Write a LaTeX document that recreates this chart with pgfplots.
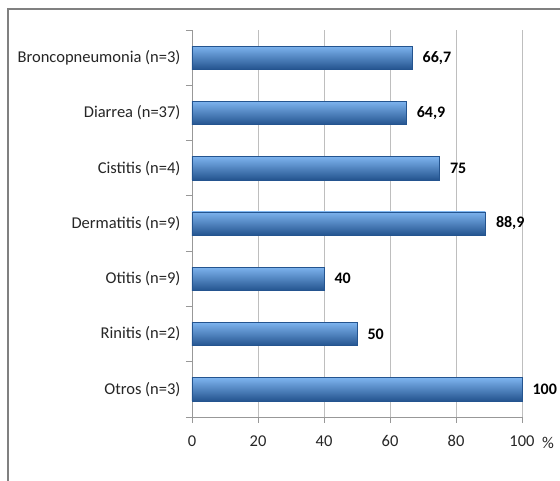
\documentclass[border=0pt]{standalone}
\usepackage{fontspec}
\setmainfont{Carlito}
\usepackage{pgfplots}
\pgfplotsset{compat=1.18}
\definecolor{barlight}{HTML}{7DB3EE}
\definecolor{barmid}{HTML}{3F7ECB}
\definecolor{bardark}{HTML}{24548F}
\definecolor{frame}{HTML}{808080}
\definecolor{gridc}{HTML}{BEBEBE}
\begin{document}
\begin{tikzpicture}[x=1pt,y=1pt]
\useasboundingbox (0,0) rectangle (560,481);
\fill[white] (0,0) rectangle (560,481);
\draw[frame, line width=1.6pt] (8,0) -- (8,472) -- (560,472);
\begin{axis}[
  at={(192pt,64pt)}, anchor=south west,
  scale only axis, width=330pt, height=387pt,
  xbar, bar width=0.42, bar shift=0pt,
  xmin=0, xmax=100, ymin=-0.5, ymax=6.5,
  axis lines*=left,
  axis line style={gridc!80!black, line width=0.9pt},
  xtick={0,20,...,100},
  xmajorgrids, grid style={gridc, line width=0.9pt},
  tick align=outside, major tick length=6pt,
  tick style={gridc!80!black, line width=0.9pt},
  ytick={-0.5,0.5,...,6.5}, yticklabels={},
  extra y ticks={0,1,2,3,4,5,6},
  extra y tick labels={Otros (n=3),Rinitis (n=2),Otitis (n=9),Dermatitis (n=9),Cistitis (n=4),Diarrea (n=37),Broncopneumonia (n=3)},
  extra y tick style={major tick length=0pt, yticklabel style={xshift=-8pt}},
  ticklabel style={font=\fontsize{16.5}{18}\selectfont, text=black!85},
  xticklabel style={yshift=-9pt},
  /pgf/number format/.cd, use comma, 1000 sep={}, assume math mode=true,
  /pgfplots/.cd,
  clip=false,
  nodes near coords, nodes near coords align=horizontal,
  every node near coord/.append style={font=\bfseries\fontsize{16}{18}\selectfont, text=black, xshift=7pt},
  barsty/.style={draw=bardark, line width=0.6pt, top color=barlight, middle color=barmid, bottom color=bardark},
]
\addplot[barsty] coordinates {(100,0)};
\addplot[barsty] coordinates {(50,1)};
\addplot[barsty] coordinates {(40,2)};
\addplot[barsty] coordinates {(88.9,3)};
\addplot[barsty] coordinates {(75,4)};
\addplot[barsty] coordinates {(64.9,5)};
\addplot[barsty] coordinates {(66.7,6)};
\end{axis}
\node[font=\fontsize{16.5}{18}\selectfont, text=black!85] at (548,38) {\%};
\end{tikzpicture}
\end{document}
